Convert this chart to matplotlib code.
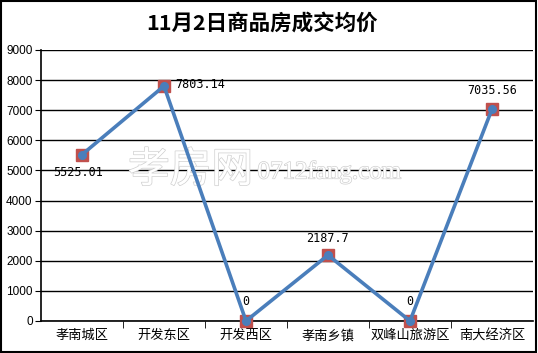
import matplotlib
matplotlib.use("Agg")
import matplotlib.pyplot as plt
import matplotlib.patheffects as pe

plt.rcParams["font.family"] = ["Noto Sans CJK SC", "DejaVu Sans"]

# ── 數據 ──
districts = ["孝南城区", "开发东区", "开发西区", "孝南乡镇", "双峰山旅游区", "南大经济区"]
prices = [5525.01, 7803.14, 0, 2187.7, 0, 7035.56]
price_labels = ["5525.01", "7803.14", "0", "2187.7", "0", "7035.56"]
yticks = [0, 1000, 2000, 3000, 4000, 5000, 6000, 7000, 8000, 9000]

fig = plt.figure(figsize=(5.38, 3.53), dpi=100)
fig.patch.set_facecolor("white")
# 外框
fig.add_artist(plt.Rectangle((0.002, 0.003), 0.995, 0.994, transform=fig.transFigure,
                             fill=False, edgecolor="black", linewidth=1.5))

ax = fig.add_axes([0.0762, 0.0907, 0.9145, 0.7677])
x = list(range(len(districts)))

ax.set_xlim(-0.5, len(districts) - 0.5)
ax.set_ylim(0, 9000)
ax.set_yticks(yticks)
ax.set_yticklabels([str(v) for v in yticks], fontsize=8.5, family=["Liberation Sans", "DejaVu Sans"])
ax.yaxis.grid(True, color="black", linewidth=1.0)
ax.set_axisbelow(True)

ax.set_xticks(x)
ax.set_xticklabels(districts, fontsize=9.5)
ax.set_xticks([i + 0.5 for i in x[:-1]], minor=True)
ax.tick_params(axis="x", which="major", length=0, pad=6)
ax.tick_params(axis="x", which="minor", length=5, direction="out", color="black")
ax.tick_params(axis="y", length=4, direction="out", pad=2)

for side in ["top", "right"]:
    ax.spines[side].set_visible(False)
ax.spines["left"].set_linewidth(1.2)
ax.spines["bottom"].set_linewidth(1.2)

# 水印
stroke = [pe.withStroke(linewidth=1.0, foreground="#cfcfcf")]
ax.text(0.177, 0.555, "孝房网", transform=ax.transAxes, fontsize=30, color="white",
        ha="left", va="center", weight="light", path_effects=stroke, zorder=1)
ax.text(0.44, 0.55, "0712fang.com", transform=ax.transAxes, fontsize=18, color="white",
        ha="left", va="center", family="Liberation Serif", path_effects=stroke, zorder=1)

# 折線
ax.plot(x, prices, linestyle="none", marker="s", markersize=8, color="#C0504D", zorder=3,
        clip_on=False)
ax.plot(x, prices, color="#4A7EBB", linewidth=2.6, marker="o", markersize=5.5,
        zorder=4, clip_on=False)

# 數據標籤
offsets = [(-3, -8, "center", "top"), (8, 1, "left", "center"), (0, 9, "center", "bottom"),
           (0, 7, "center", "bottom"), (0, 9, "center", "bottom"), (0, 9, "center", "bottom")]
for xi, yi, lab, (dx, dy, ha, va) in zip(x, prices, price_labels, offsets):
    ax.annotate(lab, (xi, yi), xytext=(dx, dy), textcoords="offset points",
                ha=ha, va=va, fontsize=8.5, family="DejaVu Sans Mono", zorder=5)

fig.text(0.487, 0.935, "11月2日商品房成交均价", ha="center", va="center",
         fontsize=15.5, weight="bold")

fig.savefig("out.png", dpi=100)
